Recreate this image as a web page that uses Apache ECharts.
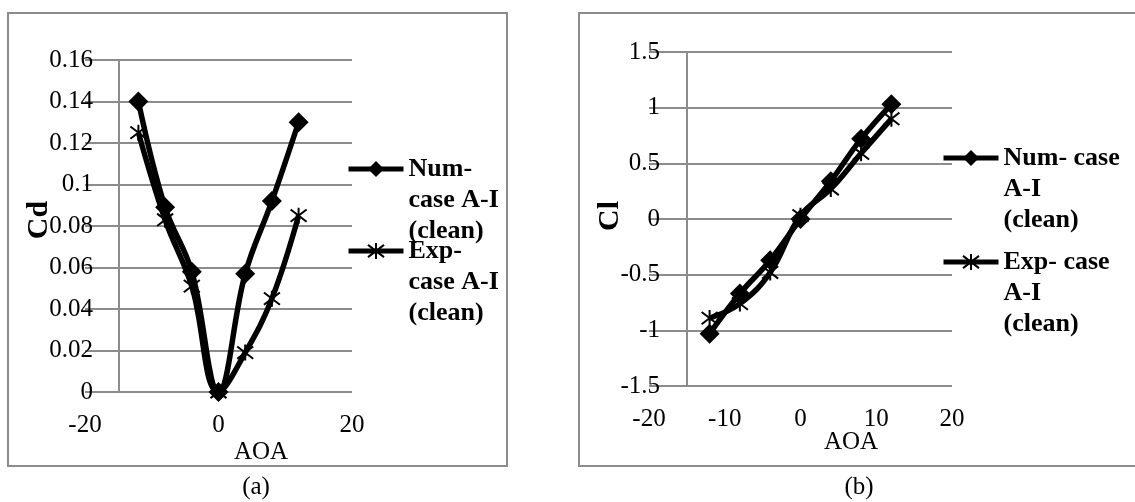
<!DOCTYPE html>
<html><head><meta charset="utf-8">
<script src="https://cdn.jsdelivr.net/npm/echarts@6/dist/echarts.min.js"></script>
<style>html,body{margin:0;padding:0;background:#fff}#c{width:1135px;height:502px}</style>
</head><body><div id="c"></div>
<script>
// ---- data ----
const aoa = [-12, -8, -4, 0, 4, 8, 12];
const cdNum = [0.140, 0.089, 0.058, 0.000, 0.057, 0.092, 0.130];
const cdExp = [0.125, 0.083, 0.051, 0.000, 0.019, 0.045, 0.085];
const clNum = [-1.03, -0.67, -0.37, 0.00, 0.34, 0.72, 1.03];
const clExp = [-0.89, -0.76, -0.48, 0.03, 0.27, 0.59, 0.90];
const xRange = [-20, 20];
const cdRange = [0, 0.16, 0.02];
const clRange = [-1.5, 1.5, 0.5];
const numName = 'Num- case A-I (clean)';
const expName = 'Exp- case A-I (clean)';
const legendLeftLabels = {[numName]: ['Num-', 'case A-I', '(clean)'], [expName]: ['Exp-', 'case A-I', '(clean)']};
const legendRightLabels = {[numName]: ['Num- case', 'A-I', '(clean)'], [expName]: ['Exp- case', 'A-I', '(clean)']};
const yAxisCross = -15;

const SERIF = '"Liberation Serif", "Times New Roman", serif';
const GRID = '#8c8c8c';
const pairs = (xs, ys) => xs.map((x, i) => [x, ys[i]]);
const asterisk = 'path://M0,0L10,10M0,10L10,0M5,-1.5L5,11.5';

function xAxisCfg(idx, interval) {
  return {type: 'value', gridIndex: idx, min: xRange[0], max: xRange[1], interval: interval,
    axisLine: {show: false}, axisTick: {show: false}, splitLine: {show: false},
    axisLabel: {fontFamily: SERIF, fontSize: 25, color: '#000', margin: 21}};
}
function yAxisCfg(idx, r, margin) {
  return {type: 'value', gridIndex: idx, min: r[0], max: r[1], interval: r[2],
    axisLine: {show: false}, axisTick: {show: false},
    splitLine: {show: true, lineStyle: {color: GRID, width: 2}},
    axisLabel: {fontFamily: SERIF, fontSize: 25, color: '#000', margin: margin}};
}
function crossLine(r) {
  return {silent: true, symbol: 'none', label: {show: false}, emphasis: {disabled: true},
    lineStyle: {color: GRID, width: 2, type: 'solid'},
    data: [[{coord: [yAxisCross, r[0]]}, {coord: [yAxisCross, r[1]]}]]};
}
function numSeries(idx, ys, r) {
  return {name: numName, type: 'line', xAxisIndex: idx, yAxisIndex: idx, data: pairs(aoa, ys),
    smooth: 0.4, symbol: 'diamond', symbolSize: 20,
    lineStyle: {color: '#000', width: 5.5}, itemStyle: {color: '#000'},
    markLine: crossLine(r), z: 3};
}
function expSeries(idx, ys) {
  return {name: expName, type: 'line', xAxisIndex: idx, yAxisIndex: idx, data: pairs(aoa, ys),
    smooth: 0.4, symbol: asterisk, symbolSize: 16,
    lineStyle: {color: '#000', width: 5.5},
    itemStyle: {color: '#000', borderColor: '#000', borderWidth: 2}, z: 2};
}
function legendCfg(name, left, iconY, labels) {
  // two blank lines above keep the first text line level with the legend icon
  return {data: [name], left: left, top: iconY - 77.5, padding: 0, itemWidth: 55, itemHeight: 20, itemGap: 0,
    selectedMode: false, formatter: n => ['\u00a0', '\u00a0'].concat(labels[n]).join('\n'),
    lineStyle: {width: 5, color: '#000'},
    textStyle: {fontFamily: SERIF, fontWeight: 'bold', fontSize: 26, lineHeight: 31, color: '#000'}};
}
function txt(text, x, y, size, bold, rot) {
  return {type: 'text', x: x, y: y, rotation: rot || 0, z: 10,
    style: {text: text, fontFamily: SERIF, fontSize: size, fontWeight: bold ? 'bold' : 'normal',
      fill: '#000', align: 'center', verticalAlign: 'middle'}};
}

const chart = echarts.init(document.getElementById('c'), null, {renderer: 'canvas'});
chart.setOption({
  animation: false,
  backgroundColor: '#fff',
  grid: [
    {left: 85, top: 60, width: 267, height: 332},
    {left: 649, top: 52, width: 303, height: 334}
  ],
  xAxis: [xAxisCfg(0, 20), xAxisCfg(1, 10)],
  yAxis: [yAxisCfg(0, cdRange, -8), yAxisCfg(1, clRange, -11)],
  legend: [
    legendCfg(numName, 346, 169, legendLeftLabels),
    legendCfg(expName, 346, 251, legendLeftLabels),
    legendCfg(numName, 941, 158, legendRightLabels),
    legendCfg(expName, 941, 262, legendRightLabels)
  ],
  series: [
    numSeries(0, cdNum, cdRange), expSeries(0, cdExp),
    numSeries(1, clNum, clRange), expSeries(1, clExp)
  ],
  graphic: [
    {type: 'rect', shape: {x: 8, y: 13, width: 499, height: 453}, style: {fill: 'none', stroke: GRID, lineWidth: 2}, z: -1},
    {type: 'rect', shape: {x: 579, y: 13, width: 570, height: 453}, style: {fill: 'none', stroke: GRID, lineWidth: 2}, z: -1},
    txt('Cd', 39, 220, 30, true, Math.PI / 2),
    txt('Cl', 610, 216, 30, true, Math.PI / 2),
    txt('AOA', 261, 452, 25, false),
    txt('AOA', 851, 442, 25, false),
    txt('(a)', 256, 487, 25, false),
    txt('(b)', 859, 487, 25, false)
  ]
});
</script></body></html>
